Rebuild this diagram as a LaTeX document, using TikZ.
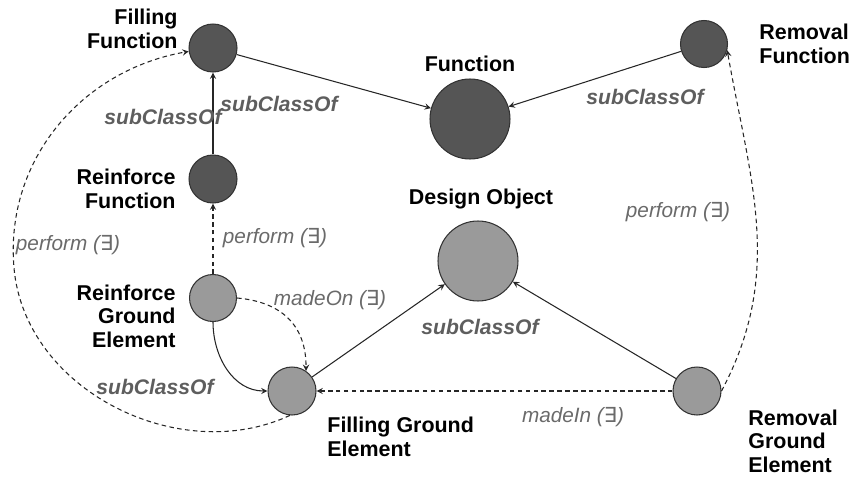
\documentclass[tikz,border=0pt]{standalone}
\usepackage{fontspec}
\setmainfont{Liberation Sans}
\newfontfamily\symfont{DejaVu Sans}
\usetikzlibrary{positioning}
\definecolor{darknode}{HTML}{555555}
\definecolor{lightnode}{HTML}{9A9A9A}
\definecolor{rimgray}{HTML}{333333}
\definecolor{lblgray}{HTML}{5E5E5E}
\definecolor{propgray}{HTML}{6A6A6A}
\begin{document}
\begin{tikzpicture}[x=0.02cm, y=-0.02cm, line width=0.5pt,
  cls/.style={circle, draw=rimgray, line width=0.6pt, inner sep=0pt, minimum size=0.96cm},
  dk/.style={cls, fill=darknode},
  lt/.style={cls, fill=lightnode},
  clsname/.style={font=\bfseries\fontsize{12.2}{13.4}\selectfont, inner sep=0pt},
  rel/.style={font=\bfseries\itshape\fontsize{12}{13}\selectfont, text=lblgray, inner sep=0pt},
  prop/.style={font=\itshape\fontsize{11.8}{13}\selectfont, text=propgray, inner sep=0pt},
  arr/.style={->, >=stealth, line width=0.6pt, draw=black!85},
  darr/.style={arr, dashed, dash pattern=on 2.6pt off 1.9pt}]
  \useasboundingbox (0,0) rectangle (853,477);
  % 클래스(원)
  \node[dk] (fillfn) at (213,48) {};
  \node[dk, minimum size=1.6cm] (fn) at (470,119) {};
  \node[dk, minimum size=0.94cm] (remfn) at (704,44) {};
  \node[dk] (reinfn) at (213,179) {};
  \node[lt, minimum size=1.6cm] (design) at (478,261) {};
  \node[lt, minimum size=0.94cm] (reinge) at (213,298) {};
  \node[lt] (fillge) at (292,391) {};
  \node[lt] (remge) at (697,391) {};
  % 클래스 이름
  \node[clsname, align=right, anchor=east] (fillfnlbl) at (178,29) {Filling\\Function};
  \node[clsname] (fnlbl) at (470,64) {Function};
  \node[clsname, align=left, anchor=west] (remfnlbl) at (759,44) {Removal\\Function};
  \node[clsname, align=right, anchor=east] (reinfnlbl) at (176,189) {Reinforce\\Function};
  \node[clsname] (designlbl) at (481,199) {Design Object};
  \node[clsname, align=right, anchor=east] (reingelbl) at (176,316) {Reinforce\\Ground\\Element};
  \node[clsname, align=left, anchor=west] (fillgelbl) at (327,437) {Filling Ground\\Element};
  \node[clsname, align=left, anchor=west] (remgelbl) at (748,441) {Removal\\Ground\\Element};
  % subClassOf(실선)
  \draw[arr] (fillfn) -- (fn);
  \draw[arr] (remfn) -- (fn);
  \draw[arr] (reinfn) -- (fillfn);
  \draw[arr] (fillge) -- (design);
  \draw[arr] (remge) -- (design);
  \draw[arr] (reinge.south) to[out=-90, in=180] (fillge.west);
  % 속성(파선)
  \coordinate (leftbend) at (14,268);
  \draw[darr] (reinge) -- (reinfn);
  \draw[darr] (reinge.east) to[out=-5, in=90, looseness=1.15] (fillge.55);
  \draw[darr] (remge) -- (fillge);
  \draw[darr] (fillge.-95) to[out=-155, in=-85] (leftbend) to[out=95, in=190] (fillfn.188);
  \draw[darr] (remge.east) to[out=62, in=-80] (remfn.-15);
  % 관계 라벨
  \node[rel] (sc1) at (163,117) {subClassOf};
  \node[rel] (sc2) at (279,104) {subClassOf};
  \node[rel] (sc3) at (645,97) {subClassOf};
  \node[rel] (sc4) at (480,327) {subClassOf};
  \node[rel] (sc5) at (155,387) {subClassOf};
  \node[prop] (pf1) at (275,238) {perform ({\symfont ∃})};
  \node[prop] (pf2) at (68,245) {perform ({\symfont ∃})};
  \node[prop] (pf3) at (678,212) {perform ({\symfont ∃})};
  \node[prop] (mo) at (330,300) {madeOn ({\symfont ∃})};
  \node[prop] (mi) at (573,417) {madeIn ({\symfont ∃})};
\end{tikzpicture}
\end{document}
